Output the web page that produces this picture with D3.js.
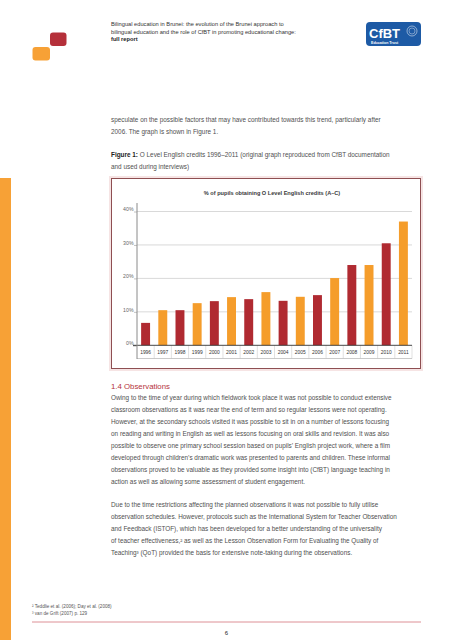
<!DOCTYPE html>
<html>
<head>
<meta charset="utf-8">
<script src="https://cdn.jsdelivr.net/npm/d3@7"></script>
<style>
  html, body { margin: 0; padding: 0; background: #fff; }
  svg { display: block; }
  text { font-family: "Liberation Sans", Arial, sans-serif; }
</style>
</head>
<body>
<svg id="page" width="453" height="640"></svg>
<script>
// ---------- DATA ----------
const years = ["1996","1997","1998","1999","2000","2001","2002","2003","2004","2005","2006","2007","2008","2009","2010","2011"];
const credits = [6.7, 10.5, 10.5, 12.6, 13.2, 14.4, 13.8, 15.9, 13.3, 14.5, 15.0, 20.1, 24.0, 24.0, 30.5, 37.0];
const yTicks = [0, 10, 20, 30, 40];
const chartTitle = "% of pupils obtaining O Level English credits (A–C)";

const headerLines = [
  "Bilingual education in Brunei: the evolution of the Brunei approach to",
  "bilingual education and the role of CfBT in promoting educational change:"
];
const headerBold = "full report";
const introLines = [
  "speculate on the possible factors that may have contributed towards this trend, particularly after",
  "2006. The graph is shown in Figure 1."
];
const captionBold = "Figure 1:";
const captionLines = [
  " O Level English credits 1996–2011 (original graph reproduced from CfBT documentation",
  "and used during interviews)"
];
const sectionHeading = "1.4 Observations";
const para1 = [
  "Owing to the time of year during which fieldwork took place it was not possible to conduct extensive",
  "classroom observations as it was near the end of term and so regular lessons were not operating.",
  "However, at the secondary schools visited it was possible to sit in on a number of lessons focusing",
  "on reading and writing in English as well as lessons focusing on oral skills and revision. It was also",
  "possible to observe one primary school session based on pupils’ English project work, where a film",
  "developed through children’s dramatic work was presented to parents and children. These informal",
  "observations proved to be valuable as they provided some insight into (CfBT) language teaching in",
  "action as well as allowing some assessment of student engagement."
];
const para2 = [
  "Due to the time restrictions affecting the planned observations it was not possible to fully utilise",
  "observation schedules. However, protocols such as the International System for Teacher Observation",
  "and Feedback (ISTOF), which has been developed for a better understanding of the universality",
  "of teacher effectiveness,² as well as the Lesson Observation Form for Evaluating the Quality of",
  "Teaching³ (QoT) provided the basis for extensive note-taking during the observations."
];
const footnotes = [
  "² Teddlie et al. (2006); Day et al. (2008)",
  "³ van de Grift (2007) p. 129"
];
const pageNumber = "6";

// ---------- PAGE ----------
const svg = d3.select("#page");
const RED = "#b02a31", ORANGE = "#f59d2b";
const bodyColor = "#505050";
const LEAD = 11.9;

// left orange strip
svg.append("rect").attr("x", 0).attr("y", 178).attr("width", 11).attr("height", 462).attr("fill", "#f7a136");

// top-left logo squares
svg.append("rect").attr("x", 50).attr("y", 32.5).attr("width", 16.5).attr("height", 13.5).attr("rx", 3).attr("fill", "#b5303a");
svg.append("rect").attr("x", 32.5).attr("y", 47).attr("width", 17.5).attr("height", 13.5).attr("rx", 3).attr("fill", "#f7a136");

// header text
const hdr = svg.append("g");
headerLines.forEach((t, i) => {
  hdr.append("text").attr("x", 111).attr("y", 26 + i * 7.5).attr("font-size", 5.7).attr("fill", "#333").text(t);
});
hdr.append("text").attr("x", 111).attr("y", 41).attr("font-size", 5.7).attr("font-weight", "bold").attr("fill", "#222").text(headerBold);

// CfBT logo
const logo = svg.append("g");
logo.append("rect").attr("x", 366).attr("y", 22).attr("width", 55).attr("height", 24).attr("rx", 4).attr("fill", "#1d5aa5");
logo.append("text").attr("x", 369).attr("y", 37.5).attr("font-family", "Liberation Serif, serif").attr("font-size", 13).attr("font-weight", "bold").attr("fill", "#fff").text("CfBT");
logo.append("text").attr("x", 371).attr("y", 44).attr("font-size", 3.6).attr("font-weight", "bold").attr("fill", "#fff").text("Education Trust");
logo.append("circle").attr("cx", 412).attr("cy", 31).attr("r", 5).attr("fill", "none").attr("stroke", "#fff").attr("stroke-width", 0.5);
logo.append("circle").attr("cx", 412).attr("cy", 31).attr("r", 3).attr("fill", "none").attr("stroke", "#fff").attr("stroke-width", 0.4);

// intro text
introLines.forEach((t, i) => {
  svg.append("text").attr("x", 111).attr("y", 121.5 + i * 12).attr("font-size", 6.4).attr("fill", bodyColor).text(t);
});
const cap = svg.append("text").attr("x", 111).attr("y", 157.3).attr("font-size", 6.4).attr("fill", bodyColor);
cap.append("tspan").attr("font-weight", "bold").attr("fill", "#222").text(captionBold);
cap.append("tspan").text(captionLines[0]);
svg.append("text").attr("x", 111).attr("y", 168.5).attr("font-size", 6.4).attr("fill", bodyColor).text(captionLines[1]);

// ---------- CHART ----------
// frame
svg.append("rect").attr("x", 110).attr("y", 177).attr("width", 312).attr("height", 193)
  .attr("fill", "none").attr("stroke", "#f6e4e4").attr("stroke-width", 2);
svg.append("rect").attr("x", 111.5).attr("y", 178.5).attr("width", 309).attr("height", 190)
  .attr("fill", "#fff").attr("stroke", "#8e4f52").attr("stroke-width", 1);

svg.append("text").attr("x", 272).attr("y", 195).attr("text-anchor", "middle")
  .attr("font-size", 5.6).attr("font-weight", "bold").attr("fill", "#3a3a3a").text(chartTitle);

const x = d3.scaleBand().domain(years).range([137, 412]).paddingInner(0.48).paddingOuter(0.24);
const y = d3.scaleLinear().domain([0, 40]).range([345.3, 211.5]);
const step = x.step();

// gridlines
svg.append("g").selectAll("line").data(yTicks.filter(d => d > 0)).join("line")
  .attr("x1", 137).attr("x2", 412).attr("y1", d => y(d)).attr("y2", d => y(d))
  .attr("stroke", "#cfcfcf").attr("stroke-width", 0.8);

// y axis
const yAxis = svg.append("g").attr("transform", "translate(137,0)")
  .call(d3.axisLeft(y).tickValues(yTicks).tickFormat(d => d + "%").tickSize(3).tickPadding(0.5));
yAxis.select(".domain").remove();
yAxis.selectAll(".tick line").attr("stroke", "#999").attr("stroke-width", 0.6);
yAxis.selectAll(".tick text").attr("font-size", 5.2).attr("fill", "#666").attr("dy", "-0.1em")
  .attr("font-family", "Liberation Sans, Arial, sans-serif");
yAxis.selectAll(".tick").filter(d => d === 0).select("line").attr("stroke", "#333").attr("x2", -4);

// bars
svg.append("g").selectAll("rect").data(years).join("rect")
  .attr("x", d => x(d)).attr("width", x.bandwidth())
  .attr("y", (d, i) => y(credits[i])).attr("height", (d, i) => y(0) - y(credits[i]))
  .attr("fill", (d, i) => i % 2 === 0 ? RED : ORANGE);

// x axis "table"
const cellTop = y(0), cellBottom = 358.5;
svg.append("g").selectAll("line").data(years).join("line")
  .attr("x1", d => x(d) - x.paddingOuter() * step + step).attr("x2", d => x(d) - x.paddingOuter() * step + step)
  .attr("y1", cellTop).attr("y2", cellBottom).attr("stroke", "#cccccc").attr("stroke-width", 0.6);
svg.append("line").attr("x1", 137).attr("x2", 412).attr("y1", cellBottom).attr("y2", cellBottom)
  .attr("stroke", "#bdbdbd").attr("stroke-width", 0.8);
const xAxis = svg.append("g").attr("transform", `translate(0,${cellTop})`)
  .call(d3.axisBottom(x).tickSize(0).tickPadding(5.5));
xAxis.select(".domain").remove();
xAxis.selectAll(".tick text").attr("font-size", 4.9).attr("fill", "#333")
  .attr("font-family", "Liberation Sans, Arial, sans-serif");

// baseline and vertical axis line
svg.append("line").attr("x1", 133).attr("x2", 412).attr("y1", y(0)).attr("y2", y(0)).attr("stroke", "#333").attr("stroke-width", 0.9);
svg.append("line").attr("x1", 137).attr("x2", 137).attr("y1", 203).attr("y2", 359).attr("stroke", "#8a8a8a").attr("stroke-width", 1);

// ---------- TEXT BELOW ----------
svg.append("text").attr("x", 111).attr("y", 389).attr("font-size", 7.8).attr("fill", "#b5333c").text(sectionHeading);
para1.forEach((t, i) => {
  svg.append("text").attr("x", 111).attr("y", 400.3 + i * LEAD).attr("font-size", 6.4).attr("fill", bodyColor).text(t);
});
para2.forEach((t, i) => {
  svg.append("text").attr("x", 111).attr("y", 400.3 + (9 + i) * LEAD).attr("font-size", 6.4).attr("fill", bodyColor).text(t);
});
footnotes.forEach((t, i) => {
  svg.append("text").attr("x", 32).attr("y", 608 + i * 7).attr("font-size", 4.6).attr("fill", "#555").text(t);
});
svg.append("line").attr("x1", 32).attr("x2", 421).attr("y1", 622).attr("y2", 622).attr("stroke", "#d9848a").attr("stroke-width", 0.9);
svg.append("text").attr("x", 226.5).attr("y", 634.5).attr("text-anchor", "middle").attr("font-size", 6).attr("fill", "#222").text(pageNumber);
</script>
</body>
</html>
